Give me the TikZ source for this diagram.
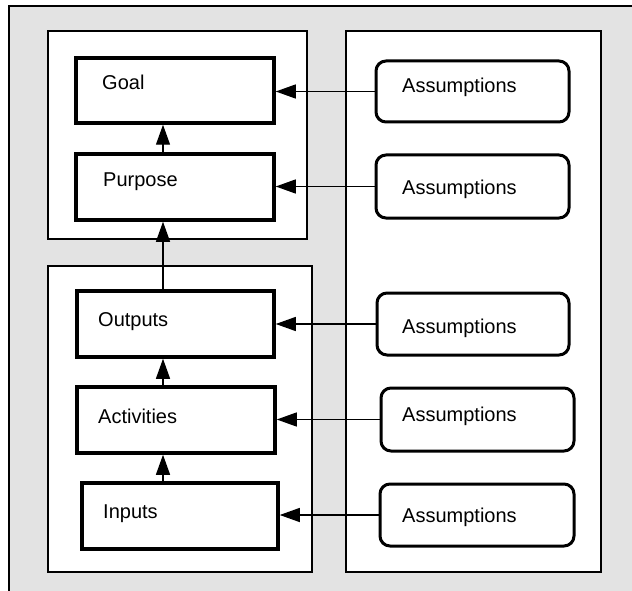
\documentclass[tikz,border=0pt]{standalone}
\usepackage{fontspec}
\setmainfont{Liberation Sans}
\usetikzlibrary{arrows.meta}
\definecolor{stipple}{gray}{0.89}
\tikzset{
  grp/.style={draw=black, line width=1.8pt, fill=white},
  elbox/.style={draw=black, line width=3.5pt, fill=white, inner sep=0pt},
  asbox/.style={draw=black, line width=3pt, fill=white, rounded corners=10pt, inner sep=0pt},
  txt/.style={anchor=base west, inner sep=0pt, font=\fontsize{20}{24}\selectfont},
  arr/.style={line width=1.3pt, -{Triangle[length=20pt,width=14pt]}}
}
\begin{document}
\begin{tikzpicture}[x=1pt,y=-1pt]
\useasboundingbox (0,0) rectangle (632,591);
\fill[stipple] (9,6) rectangle (632,591);
\draw[line width=2pt] (9,591) -- (9,6) -- (632,6);
% group boxes
\node[grp, minimum width=259pt, minimum height=208pt, inner sep=0pt] (g1) at (177.5,135) {};
\node[grp, minimum width=264pt, minimum height=306pt, inner sep=0pt] (g2) at (180,419) {};
\node[grp, minimum width=255pt, minimum height=541pt, inner sep=0pt] (g3) at (473.5,301.5) {};
% element boxes
\node[elbox, minimum width=198pt, minimum height=65pt] (goal) at (175,90.5) {};
\node[elbox, minimum width=198pt, minimum height=66pt] (purpose) at (175,187) {};
\node[elbox, minimum width=197pt, minimum height=66pt] (outputs) at (175.5,324) {};
\node[elbox, minimum width=198pt, minimum height=66pt] (activities) at (176,420) {};
\node[elbox, minimum width=196pt, minimum height=66pt] (inputs) at (180,516) {};
\node[txt] (tgoal) at (102,90) {Goal};
\node[txt] (tpurpose) at (103,186) {Purpose};
\node[txt] (toutputs) at (98,326) {Outputs};
\node[txt] (tactivities) at (98,423) {Activities};
\node[txt] (tinputs) at (103,518) {Inputs};
% assumption boxes
\node[asbox, minimum width=193pt, minimum height=61pt] (a1) at (472.5,91.5) {};
\node[asbox, minimum width=193pt, minimum height=63pt] (a2) at (472.5,186.5) {};
\node[asbox, minimum width=192pt, minimum height=62pt] (a3) at (473,324) {};
\node[asbox, minimum width=193pt, minimum height=63pt] (a4) at (477.5,419.5) {};
\node[asbox, minimum width=194pt, minimum height=62pt] (a5) at (477,515) {};
\node[txt] (ta1) at (402,93) {Assumptions};
\node[txt] (ta2) at (402,194) {Assumptions};
\node[txt] (ta3) at (402,333) {Assumptions};
\node[txt] (ta4) at (402,421) {Assumptions};
\node[txt] (ta5) at (402,522) {Assumptions};
% horizontal connectors
\draw[arr] (a1.west) -- (a1.west -| goal.east);
\draw[arr] (a2.west) -- (a2.west -| purpose.east);
\draw[arr] (a3.west) -- (a3.west -| outputs.east);
\draw[arr] (a4.west) -- (a4.west -| activities.east);
\draw[arr] (a5.west) -- (a5.west -| inputs.east);
% vertical connectors
\coordinate (vx) at (163,0);
\draw[arr] (vx |- purpose.north) -- (vx |- goal.south);
\draw[arr] (vx |- outputs.north) -- (vx |- purpose.south);
\draw[arr] (vx |- activities.north) -- (vx |- outputs.south);
\draw[arr] (vx |- inputs.north) -- (vx |- activities.south);
\end{tikzpicture}
\end{document}
